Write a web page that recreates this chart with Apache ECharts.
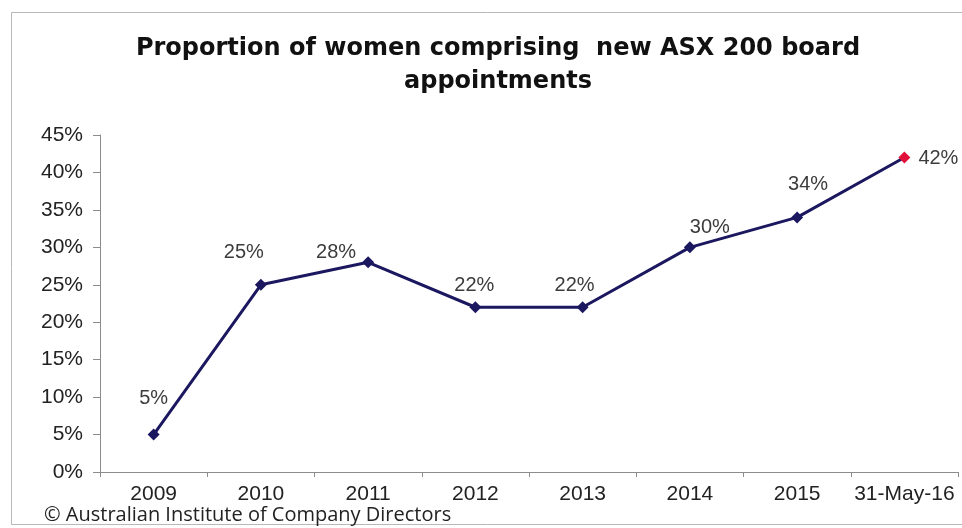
<!DOCTYPE html>
<html>
<head>
<meta charset="utf-8">
<script src="https://cdn.jsdelivr.net/npm/echarts@6/dist/echarts.min.js"></script>
<style>
  html, body { margin: 0; padding: 0; background: #fff; }
  #container { width: 962px; height: 528px; }
</style>
</head>
<body>
<div id="container"></div>
<script>
var years = ['2009', '2010', '2011', '2012', '2013', '2014', '2015', '31-May-16'];
var women = [5, 25, 28, 22, 22, 30, 34, 42];
var yTicks = [0, 5, 10, 15, 20, 25, 30, 35, 40, 45];

// nudges so each label sits roughly where the original has it
var labelOffsets = [[0, -12], [-17, -8], [-32, 14], [-1, 2], [-8, 2], [20, 4], [11, -9], [0, 1]];

var myChart = echarts.init(document.getElementById('container'));

var points = women.map(function(v, i) {
    var last = i === women.length - 1;
    return {
        value: v,
        itemStyle: { color: last ? '#e0103a' : '#1c1860' },
        label: last ? { position: 'right', distance: 8, offset: labelOffsets[i] }
                    : { position: 'top', distance: 8, offset: labelOffsets[i] }
    };
});

myChart.setOption({
    animation: false,
    title: {
        text: 'Proportion of women comprising  new ASX 200 board\nappointments',
        left: 493,
        top: 27,
        textAlign: 'center',
        textStyle: {
            fontFamily: 'DejaVu Sans, sans-serif',
            fontSize: 24,
            fontWeight: 'bold',
            color: '#111',
            lineHeight: 33
        }
    },
    graphic: [{
        type: 'rect',
        shape: { x: 11.5, y: 12.5, width: 980, height: 512 },
        style: { fill: 'none', stroke: '#b8b8b8', lineWidth: 1 },
        silent: true
    }, {
        type: 'text',
        left: 44,
        top: 505,
        style: {
            text: '© Australian Institute of Company Directors',
            font: '20px "Open Sans", sans-serif',
            fill: '#222'
        }
    }],
    grid: {
        left: 100,
        right: 4,
        top: 135,
        bottom: 56
    },
    xAxis: {
        type: 'category',
        data: years,
        boundaryGap: true,
        axisLine: { lineStyle: { color: '#8c8c8c', width: 1 } },
        axisTick: { show: true, alignWithLabel: false, length: 5, lineStyle: { color: '#8c8c8c' } },
        axisLabel: {
            color: '#222',
            fontFamily: 'Liberation Sans, Arial, sans-serif',
            fontSize: 21,
            margin: 12,
            interval: 0
        }
    },
    yAxis: {
        type: 'value',
        min: yTicks[0],
        max: yTicks[yTicks.length - 1],
        interval: 5,
        axisLine: { show: true, lineStyle: { color: '#8c8c8c', width: 1 } },
        axisTick: { show: true, length: 7, lineStyle: { color: '#8c8c8c' } },
        splitLine: { show: false },
        axisLabel: {
            color: '#222',
            fontFamily: 'Liberation Sans, Arial, sans-serif',
            fontSize: 21,
            margin: 17,
            formatter: '{value}%'
        }
    },
    series: [{
        type: 'line',
        data: points,
        symbol: 'diamond',
        symbolSize: 12,
        lineStyle: { color: '#1c1860', width: 3 },
        label: {
            show: true,
            formatter: '{c}%',
            color: '#3c3c3c',
            fontFamily: 'Liberation Sans, Arial, sans-serif',
            fontSize: 20
        }
    }]
});
</script>
</body>
</html>
